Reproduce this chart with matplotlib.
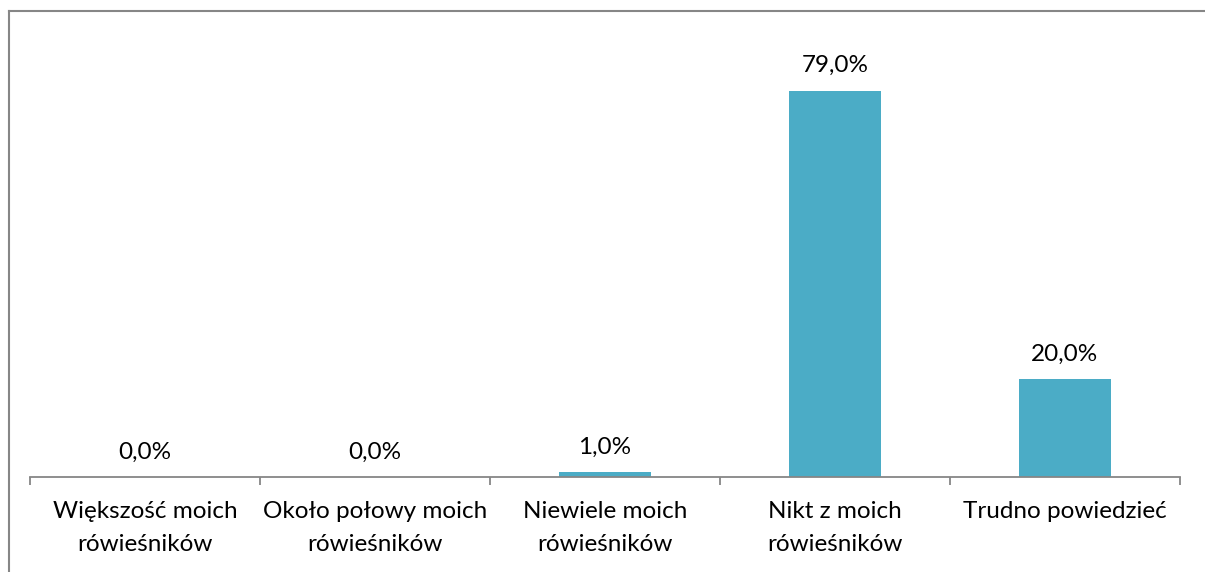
import matplotlib
matplotlib.use("Agg")
import matplotlib.pyplot as plt
from matplotlib.lines import Line2D

categories = [
    "Większość moich\nrówieśników",
    "Około połowy moich\nrówieśników",
    "Niewiele moich\nrówieśników",
    "Nikt z moich\nrówieśników",
    "Trudno powiedzieć",
]
values = [0.0, 0.0, 1.0, 79.0, 20.0]

plt.rcParams["font.family"] = ["Lato", "DejaVu Sans"]

W, H = 1205, 572
fig = plt.figure(figsize=(W / 100, H / 100), dpi=100)
ax = fig.add_axes([30 / W, (H - 477) / H, 1150 / W, 466 / H])

x = list(range(len(categories)))
ax.bar(x, values, width=0.4, color="#4BACC6", zorder=2)
ax.set_xlim(-0.5, len(categories) - 0.5)
ax.set_ylim(0, 466 / 4.89)

for xi, v in zip(x, values):
    ax.annotate(f"{v:.1f}%".replace(".", ","), (xi, v), xytext=(0, 18),
                textcoords="offset points", ha="center", va="center",
                fontsize=17.5, color="#000000")

for s in ["top", "right", "left"]:
    ax.spines[s].set_visible(False)
ax.spines["bottom"].set_color("#868686")
ax.spines["bottom"].set_linewidth(1.3)
ax.set_yticks([])

ax.set_xticks([i - 0.5 for i in range(len(categories) + 1)], minor=False)
ax.set_xticklabels([])
ax.tick_params(axis="x", which="major", length=6, color="#868686", width=1.3)
ax.set_xticks(x, minor=True)
ax.set_xticklabels(categories, minor=True, fontsize=17.5, linespacing=1.75)
ax.tick_params(axis="x", which="minor", length=0, pad=17)

# outer chart border (only left and top edges visible)
fig.add_artist(Line2D([9 / W, 9 / W], [0, 1 - 10.5 / H], transform=fig.transFigure,
                      color="#868686", linewidth=1.5))
fig.add_artist(Line2D([9 / W, 1], [1 - 10.5 / H, 1 - 10.5 / H], transform=fig.transFigure,
                      color="#868686", linewidth=1.5))

fig.savefig("out.png", dpi=100)
